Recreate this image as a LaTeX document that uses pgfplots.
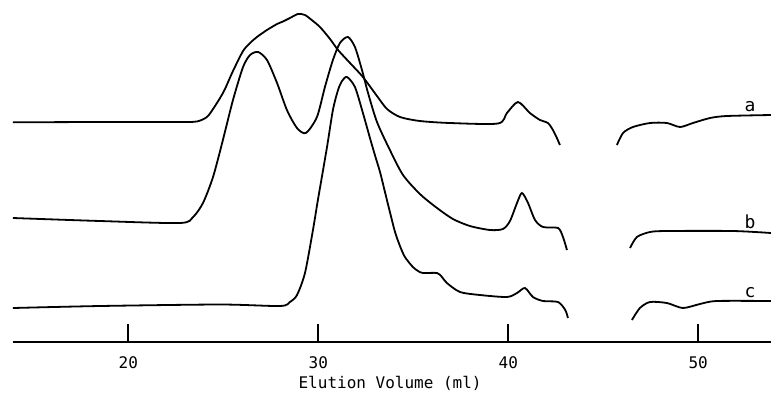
\documentclass[border=0pt]{standalone}
\usepackage{fontspec}
\setmainfont{DejaVu Sans Mono}
\usepackage{pgfplots}
\pgfplotsset{compat=1.18}
\pgfplotsset{curve/.style={black, solid, no markers, line width=0.9pt, smooth, tension=0.45}}
\begin{document}
\begin{tikzpicture}
\begin{axis}[
  name=main,
  scale only axis, width=385.5pt, height=171pt,
  xmin=13.247, xmax=53.83, ymin=0, ymax=342,
  axis x line*=bottom, axis y line=none,
  x axis line style={draw=none},
  xtick={20,30,40,50},
  tick align=inside,
  major tick length=8.8pt,
  xtick style={black, line width=0.8pt},
  xticklabel style={font=\fontsize{8}{9}\selectfont, yshift=-4pt},
  /pgf/number format/assume math mode=true,
  xlabel={Elution Volume (ml)},
  xlabel style={font=\fontsize{8}{9}\selectfont, at={(axis description cs:0.506,0)}, anchor=center, yshift=-20.5pt},
  clip=false,
]
% baseline
\addplot[black, no markers, sharp plot, line width=0.8pt] coordinates {(13.93,0) (53.83,0)};
% curve a
\addplot[curve] coordinates {
(13.93,219.7) (18.51,220) (22.72,220) (23.61,220.5) (24.14,225) (24.46,233)
(24.83,244) (25.09,253) (25.51,271) (26.04,291) (26.41,299) (26.77,305)
(27.30,312) (27.83,318) (28.14,320.5) (28.51,324) (28.93,328) (29.30,327)
(29.72,321) (30.09,315) (30.62,303) (31.04,292) (31.67,279) (32.35,265)
(33.09,246) (33.62,233) (34.30,225) (35.35,221) (36.93,219) (39.46,218.5)
(39.93,229) (40.51,240) (41.14,229) (41.67,222) (42.09,219) (42.35,212)
(42.56,204) (42.72,197)};
\addplot[curve] coordinates {
(45.72,197) (46.04,209) (46.56,215) (47.46,219) (48.35,219) (49.04,215)
(49.72,219) (50.62,224) (51.51,226) (53.83,227)};
% curve b
\addplot[curve] coordinates {
(13.93,124) (18.51,121) (22.72,119) (23.41,125) (23.93,139) (24.46,165)
(24.98,202) (25.51,242) (26.04,275) (26.41,287) (26.83,290) (27.30,282)
(27.83,259) (28.35,232) (28.88,214) (29.35,209) (29.93,225) (30.35,255)
(30.77,282) (31.14,299) (31.56,305) (31.93,295) (32.30,272) (32.62,249)
(33.09,220) (33.77,192) (34.46,167) (35.35,148) (36.25,134)
(37.09,123) (37.98,116) (39.04,112) (39.72,113) (40.09,121) (40.46,139)
(40.72,149) (41.04,139) (41.41,122) (41.83,115) (42.62,114) (42.88,105)
(43.09,92)};
\addplot[curve] coordinates {
(46.41,94) (46.77,105) (47.46,110) (48.35,111) (51.83,111) (53.83,109)};
% curve c
\addplot[curve] coordinates {
(13.93,34) (18.51,36) (24.83,37.5) (27.98,36) (28.51,40) (28.88,47)
(29.30,69) (29.72,112) (29.98,142) (30.46,195) (30.77,232) (31.04,252)
(31.25,261) (31.51,265) (31.93,255) (32.35,229) (32.72,204) (32.98,187)
(33.25,170) (33.51,150) (33.77,130) (34.04,110) (34.30,96) (34.56,85)
(34.98,75) (35.25,71) (35.51,69) (36.25,69) (36.51,65) (36.77,59)
(37.46,50) (38.51,47) (39.93,45) (40.46,49) (40.88,54) (41.30,45)
(41.83,41) (42.62,40) (43.00,32) (43.14,24)};
\addplot[curve] coordinates {
(46.51,22) (46.93,34) (47.46,40) (48.35,39) (49.19,34) (50.09,38)
(50.98,41) (53.83,41)};
\node[font=\fontsize{9}{10}\selectfont] at (axis cs:52.72,235) {a};
\node[font=\fontsize{9}{10}\selectfont] at (axis cs:52.72,120) {b};
\node[font=\fontsize{9}{10}\selectfont] at (axis cs:52.72,49) {c};
\end{axis}
\pgfresetboundingbox
\useasboundingbox (main.south west) ++(0,-25.5pt) rectangle (main.north east);
\end{tikzpicture}
\end{document}
